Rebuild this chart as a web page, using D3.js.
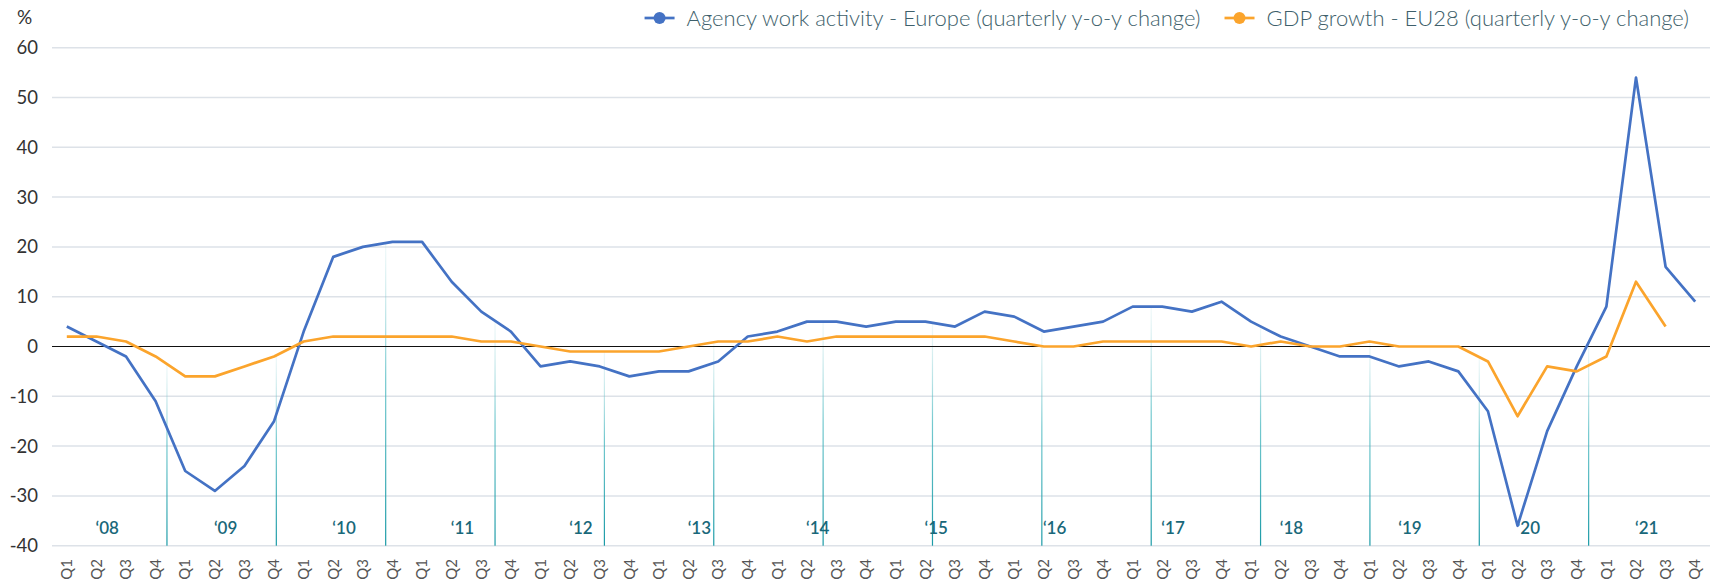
<!DOCTYPE html>
<html>
<head>
<meta charset="utf-8">
<script src="https://cdn.jsdelivr.net/npm/d3@7"></script>
<style>
  body { margin: 0; background: #fff; }
  text { font-family: Lato, "Open Sans", sans-serif; }
</style>
</head>
<body>
<div id="chart"></div>
<script>
// data
const years = ["2008", "2009", "2010", "2011", "2012", "2013", "2014",
               "2015", "2016", "2017", "2018", "2019", "2020", "2021"];
const yearLabels = ["\u201808", "\u201809", "\u201810", "\u201811", "\u201812", "\u201813", "\u201814",
                    "\u201815", "\u201816", "\u201817", "\u201818", "\u201819", "\u201820", "\u201821"];
const quarters = ["Q1", "Q2", "Q3", "Q4"];

const agencyWork = [
  4, 1, -2, -11,     -25, -29, -24, -15,   3, 18, 20, 21,    21, 13, 7, 3,
  -4, -3, -4, -6,    -5, -5, -3, 2,        3, 5, 5, 4,       5, 5, 4, 7,
  6, 3, 4, 5,        8, 8, 7, 9,           5, 2, 0, -2,      -2, -4, -3, -5,
  -13, -36, -17, -4, 8, 54, 16, 9
];
const gdpGrowth = [
  2, 2, 1, -2,       -6, -6, -4, -2,       1, 2, 2, 2,       2, 2, 1, 1,
  0, -1, -1, -1,     -1, 0, 1, 1,          2, 1, 2, 2,       2, 2, 2, 2,
  1, 0, 0, 1,        1, 1, 1, 1,           0, 1, 0, 0,       1, 0, 0, 0,
  -3, -14, -4, -5,   -2, 13, 4
];
const yTicks = [60, 50, 40, 30, 20, 10, 0, -10, -20, -30, -40];

const seriesNames = ["Agency work activity - Europe (quarterly y-o-y change)",
                     "GDP growth - EU28 (quarterly y-o-y change)"];
const seriesColors = ["#4472c4", "#fba42c"];

const width = 1723, height = 586;
const plotLeft = 52, plotRight = 1710, plotTop = 47.7, plotBottom = 545.7;

const categories = [];
years.forEach(yr => quarters.forEach(q => categories.push(yr + " " + q)));

let svg = d3.select("#chart")
    .append("svg")
    .attr("width", width)
    .attr("height", height);

let x = d3.scaleBand().domain(categories).range([plotLeft, plotRight]).padding(0);
let y = d3.scaleLinear().domain([-40, 60]).range([plotBottom, plotTop]);
let bw = x.bandwidth();
let cx = i => x(categories[i]) + bw / 2;

// year separators sit on their own evenly spaced scale (as in the original)
let sep = d3.scaleLinear().domain([0, years.length + 1]).range([plotLeft + 5.6, plotRight - 12]);

// gradient for the separators
let defs = svg.append("defs");
let grad = defs.append("linearGradient")
    .attr("id", "sepGrad")
    .attr("x1", 0).attr("y1", 1).attr("x2", 0).attr("y2", 0);
grad.append("stop").attr("offset", "0%").attr("stop-color", "#1a9aa6").attr("stop-opacity", 1);
grad.append("stop").attr("offset", "55%").attr("stop-color", "#46b7bf").attr("stop-opacity", 0.75);
grad.append("stop").attr("offset", "100%").attr("stop-color", "#9fd6da").attr("stop-opacity", 0.15);

// grid
svg.append("g")
    .selectAll("line")
    .data(yTicks.filter(d => d !== 0))
    .enter()
    .append("line")
    .attr("x1", plotLeft)
    .attr("x2", plotRight)
    .attr("y1", d => y(d))
    .attr("y2", d => y(d))
    .attr("stroke", "#dde2e8")
    .attr("stroke-width", 1.5);

// value of the higher series at a given x position
function topValue(px) {
    let t = (px - cx(0)) / bw;
    let i = Math.floor(t), f = t - i;
    let vals = [agencyWork, gdpGrowth].map(s => {
        if (i + 1 >= s.length) return -Infinity;
        return s[i] + (s[i + 1] - s[i]) * f;
    });
    return d3.max(vals);
}

let sepIdx = d3.range(1, years.length + 1);
svg.append("g")
    .selectAll("rect")
    .data(sepIdx)
    .enter()
    .append("rect")
    .attr("x", d => sep(d) - 0.6)
    .attr("width", 1.2)
    .attr("y", d => y(topValue(sep(d))))
    .attr("height", d => y(-40) - y(topValue(sep(d))))
    .attr("fill", "url(#sepGrad)");

// zero line
svg.append("line")
    .attr("x1", plotLeft)
    .attr("x2", plotRight)
    .attr("y1", y(0))
    .attr("y2", y(0))
    .attr("stroke", "#111")
    .attr("stroke-width", 1.2);

// y labels
svg.append("g")
    .selectAll("text")
    .data(yTicks)
    .enter()
    .append("text")
    .attr("x", 38)
    .attr("y", d => y(d))
    .attr("dy", "0.35em")
    .attr("text-anchor", "end")
    .attr("font-size", 18.5)
    .attr("fill", "#333")
    .text(d => d);

svg.append("text")
    .attr("x", 17)
    .attr("y", 17)
    .attr("dy", "0.35em")
    .attr("font-size", 19)
    .attr("fill", "#333")
    .text("%");

// quarter labels
svg.append("g")
    .selectAll("text")
    .data(categories)
    .enter()
    .append("text")
    .attr("transform", (d, i) => `translate(${cx(i)},559) rotate(-90)`)
    .attr("dy", "0.35em")
    .attr("text-anchor", "end")
    .attr("font-size", 15)
    .attr("fill", "#555")
    .text(d => d.split(" ")[1]);

// year labels
svg.append("g")
    .selectAll("text")
    .data(years)
    .enter()
    .append("text")
    .attr("x", (d, i) => (cx(i * 4 + 1) + cx(i * 4 + 2)) / 2 - 4)
    .attr("y", 528)
    .attr("dy", "0.35em")
    .attr("text-anchor", "middle")
    .attr("font-size", 17)
    .attr("font-weight", 600)
    .attr("fill", "#19687a")
    .text((d, i) => yearLabels[i]);

// series lines
let line = d3.line()
    .x((d, i) => cx(i))
    .y(d => y(d));

[agencyWork, gdpGrowth].forEach((s, k) => {
    svg.append("path")
        .datum(s)
        .attr("fill", "none")
        .attr("stroke", seriesColors[k])
        .attr("stroke-width", 2.7)
        .attr("stroke-linejoin", "round")
        .attr("d", line);
});

// legend, laid out from the right edge
let legend = svg.append("g");
let legendRight = 1689;
let pos = legendRight;
for (let k = seriesNames.length - 1; k >= 0; k--) {
    let t = legend.append("text")
        .attr("y", 18)
        .attr("dy", "0.35em")
        .attr("font-size", 22)
        .attr("font-weight", 300)
        .attr("fill", "#3e5f6b")
        .text(seriesNames[k]);
    let w = t.node().getComputedTextLength();
    t.attr("x", pos - w);
    let mEnd = pos - w - 12;
    legend.append("line")
        .attr("x1", mEnd - 30).attr("x2", mEnd)
        .attr("y1", 18).attr("y2", 18)
        .attr("stroke", seriesColors[k])
        .attr("stroke-width", 2.7);
    legend.append("circle")
        .attr("cx", mEnd - 15).attr("cy", 18).attr("r", 6)
        .attr("fill", seriesColors[k]);
    pos = mEnd - 30 - 24;
}
</script>
</body>
</html>
